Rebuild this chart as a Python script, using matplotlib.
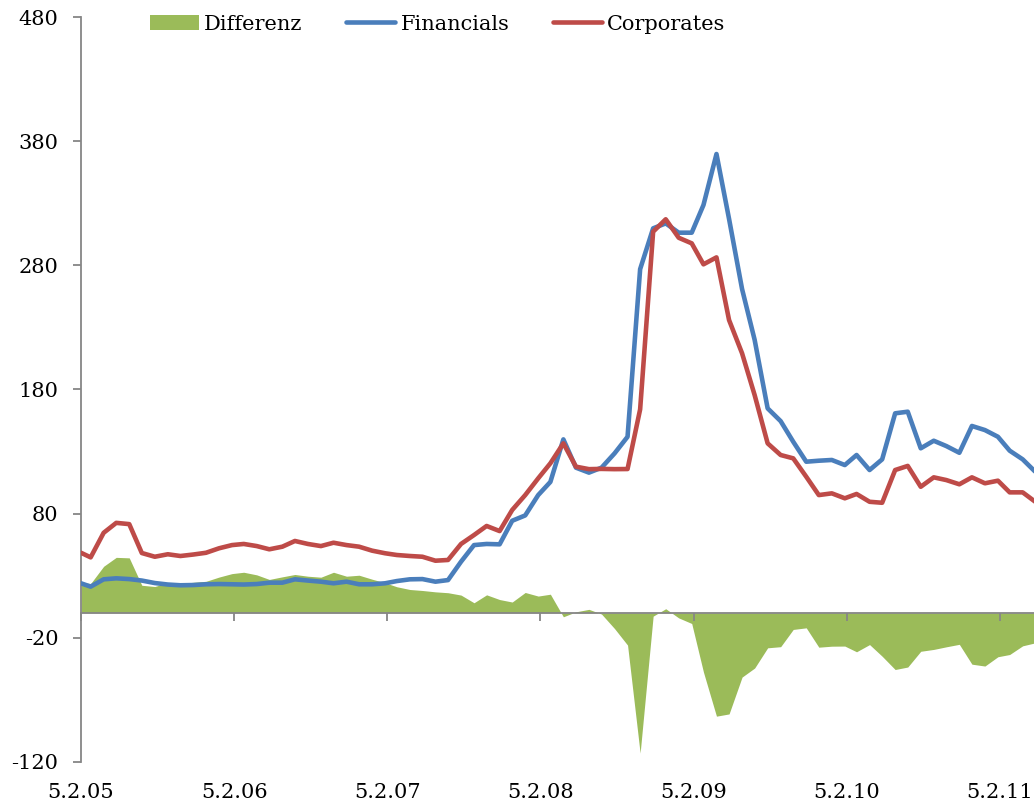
import matplotlib
matplotlib.use("Agg")
import matplotlib.pyplot as plt
from matplotlib.lines import Line2D
from matplotlib.patches import Patch
from matplotlib.transforms import blended_transform_factory
import pandas as pd

# Observation dates: start date, then month ends Feb 2005 .. Apr 2011
dates = pd.DatetimeIndex([pd.Timestamp("2005-02-05")]).append(
    pd.date_range("2005-02-28", periods=75, freq=pd.offsets.MonthEnd()))

financials = [
    23.8, 21.1, 27.0, 27.8, 27.2, 26.0, 24.0, 22.8, 22.2, 22.4, 23.0, 23.2,
    23.0, 22.8, 23.2, 24.3, 24.3, 27.0, 26.0, 25.1, 23.8, 25.1, 23.0, 23.0,
    23.8, 25.6, 27.0, 27.2, 25.1, 26.4, 41.2, 54.6, 55.5, 55.2, 74.2, 78.5,
    94.9, 105.5, 139.8, 117.0, 113.0, 117.0, 128.5, 141.9, 277.0, 309.9,
    313.9, 306.4, 306.4, 328.7, 369.8, 317.5, 261.0, 220.0, 164.8, 154.5,
    137.9, 121.8, 122.6, 123.2, 119.1, 127.2, 115.1, 123.7, 160.8, 162.1,
    132.6, 138.7, 134.4, 129.0, 150.6, 147.3, 141.9, 130.7, 123.7, 113.7,
]
corporates = [
    48.4, 44.7, 64.5, 72.5, 71.5, 48.2, 45.2, 47.2, 45.8, 47.0, 48.4, 52.0,
    54.6, 55.5, 53.8, 51.2, 53.3, 57.9, 55.5, 53.8, 56.5, 54.6, 53.3, 50.1,
    48.0, 46.6, 45.8, 45.2, 42.0, 42.6, 55.5, 62.7, 70.0, 65.9, 82.9, 94.9,
    108.4, 120.5, 136.6, 117.8, 115.8, 116.0, 115.8, 115.9, 164.0, 307.2,
    317.2, 302.3, 297.8, 280.9, 286.5, 236.0, 209.2, 175.5, 136.6, 127.2,
    124.5, 109.7, 94.9, 96.3, 92.3, 95.8, 89.5, 88.7, 115.1, 118.4,
    101.6, 109.2, 107.0, 103.6, 109.2, 104.4, 106.5, 97.1, 97.1, 89.5,
]
differenz = [
    24.6, 23.6, 37.5, 44.7, 44.3, 22.2, 21.2, 24.4, 23.6, 24.6, 25.4, 28.8,
    31.6, 32.7, 30.6, 26.9, 29.0, 30.9, 29.5, 28.7, 32.7, 29.5, 30.3, 27.1,
    24.2, 21.0, 18.8, 18.0, 16.9, 16.2, 14.3, 8.1, 14.5, 10.7, 8.7, 16.4,
    13.5, 15.0, -3.2, 0.8, 2.8, -1.0, -12.7, -26.0, -113.0, -2.7,
    3.3, -4.1, -8.6, -47.8, -83.3, -81.5, -51.8, -44.5, -28.2, -27.3,
    -13.4, -12.1, -27.7, -26.9, -26.8, -31.4, -25.6, -35.0, -45.7, -43.7,
    -31.0, -29.5, -27.4, -25.4, -41.4, -42.9, -35.4, -33.6, -26.6, -24.2,
]

year_ticks = pd.to_datetime(["2005-02-05", "2006-02-05", "2007-02-05", "2008-02-05",
                             "2009-02-05", "2010-02-05", "2011-02-05"])
year_labels = ["5.2.05", "5.2.06", "5.2.07", "5.2.08", "5.2.09", "5.2.10", "5.2.11"]
y_ticks = [-120, -20, 80, 180, 280, 380, 480]

GREEN = "#9BBB59"
BLUE = "#4A7EBB"
RED = "#BE4B48"
AXIS = "#868686"

plt.rcParams["font.family"] = ["DejaVu Serif"]
plt.rcParams["font.size"] = 15

fig = plt.figure(figsize=(10.34, 8.07), dpi=100)
ax = fig.add_axes([81 / 1034, 45.3 / 807, 953 / 1034, 744.4 / 807])

ax.fill_between(dates, 0, differenz, color=GREEN, lw=0, zorder=1)
ax.plot(dates, financials, color=BLUE, lw=3.3, solid_joinstyle="round",
        solid_capstyle="round", zorder=3)
ax.plot(dates, corporates, color=RED, lw=3.3, solid_joinstyle="round",
        solid_capstyle="round", zorder=4)

ax.set_ylim(-120, 480)
ax.set_xlim(pd.Timestamp("2005-02-05"), pd.Timestamp("2005-02-05") + pd.Timedelta(days=2272))

for side in ("top", "right"):
    ax.spines[side].set_visible(False)
ax.spines["bottom"].set_position(("data", 0))
for side in ("left", "bottom"):
    ax.spines[side].set_color(AXIS)
    ax.spines[side].set_linewidth(1.3)
    ax.spines[side].set_zorder(2)

ax.set_yticks(y_ticks)
ax.set_yticklabels([str(v) for v in y_ticks])
ax.tick_params(axis="y", direction="out", length=5.8, width=1.3, color=AXIS,
               pad=10.5, labelsize=15)
ax.set_xticks(year_ticks)
ax.set_xticklabels([""] * len(year_ticks))
ax.tick_params(axis="x", direction="out", length=5.8, width=1.3, color=AXIS)

# Year labels sit below the plot area, under the lowest value
trans = blended_transform_factory(ax.transData, ax.transAxes)
for d, lab in zip(year_ticks, year_labels):
    ax.text(d, -0.0416, lab, transform=trans, ha="center", va="center",
            fontsize=15, clip_on=False)

handles = [
    Patch(facecolor=GREEN, edgecolor="none"),
    Line2D([], [], color=BLUE, lw=3.3, solid_capstyle="round"),
    Line2D([], [], color=RED, lw=3.3, solid_capstyle="round"),
]
fig.legend(handles, ["Differenz", "Financials", "Corporates"], ncol=3,
           loc="center left", bbox_to_anchor=(150 / 1034, 1 - 24 / 807),
           frameon=False, borderpad=0, borderaxespad=0, handlelength=2.35,
           handletextpad=0.25, columnspacing=2.1, fontsize=15)

fig.savefig("out.png", dpi=100)
